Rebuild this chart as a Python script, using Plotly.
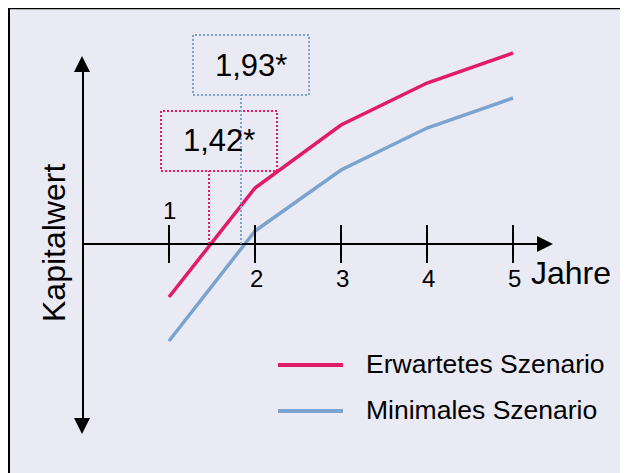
import plotly.graph_objects as go

# ---- data ----
jahre = [1, 2, 3, 4, 5]
tick_labels = ["1", "2", "3", "4", "5"]
erwartet = [-5.3, 5.6, 11.9, 16.1, 19.1]
minimal = [-9.7, 1.3, 7.4, 11.6, 14.6]
serien_namen = ["Erwartetes Szenario", "Minimales Szenario"]
amort_labels = ["1,42*", "1,93*"]

PAGE_W, PAGE_H = 628, 473
OFF = 8                      # default page body margin
W, H = PAGE_W - OFF, PAGE_H - OFF
PINK = "#E11B6A"
BLUE = "#7AA4CF"
BG = "#EAEAF4"
FONT = "Liberation Sans, Arial, sans-serif"

# page pixel -> data helpers
X0, XS = 83.0, 86.0     # pixel of year 0, pixels per year
Y0, YS = 244.0, 10.0    # pixel of value 0, pixels per unit
def dx(px):
    return (px - X0) / XS
def dy(py):
    return (Y0 - py) / YS
def paper_x(px):
    return (px - OFF) / W
def paper_y(py):
    return 1 - (py - OFF) / H

fig = go.Figure()
fig.add_trace(go.Scatter(x=jahre, y=erwartet, mode="lines", name=serien_namen[0],
                         line=dict(color=PINK, width=3.5), showlegend=False))
fig.add_trace(go.Scatter(x=jahre, y=minimal, mode="lines", name=serien_namen[1],
                         line=dict(color=BLUE, width=3.5), showlegend=False))

shapes = []
ann = []

# background frame
shapes.append(dict(type="rect", xref="paper", yref="paper", x0=paper_x(8), x1=paper_x(627), y0=-0.1,
                   y1=paper_y(7), fillcolor=BG, line=dict(width=0), layer="below"))
shapes.append(dict(type="line", xref="paper", yref="paper", x0=paper_x(8), x1=paper_x(627.5),
                   y0=paper_y(8.3), y1=paper_y(8.3), line=dict(color="black", width=2), layer="below"))
shapes.append(dict(type="line", xref="paper", yref="paper", x0=paper_x(9), x1=paper_x(9),
                   y0=-0.1, y1=paper_y(7), line=dict(color="black", width=2), layer="below"))
shapes.append(dict(type="line", xref="paper", yref="paper", x0=paper_x(627), x1=paper_x(627),
                   y0=-0.1, y1=paper_y(7), line=dict(color="#888888", width=1), layer="below"))

# axes
shapes.append(dict(type="line", x0=0, x1=0, y0=dy(72), y1=dy(418), line=dict(color="black", width=2)))
shapes.append(dict(type="line", x0=0, x1=dx(540), y0=0, y1=0, line=dict(color="black", width=2)))
# arrow heads
shapes.append(dict(type="path",
                   path=f"M {dx(74)} {dy(72)} L {dx(90)} {dy(72)} L {dx(82)} {dy(56)} Z",
                   fillcolor="black", line=dict(width=0)))
shapes.append(dict(type="path",
                   path=f"M {dx(74)} {dy(418)} L {dx(90)} {dy(418)} L {dx(82)} {dy(434)} Z",
                   fillcolor="black", line=dict(width=0)))
shapes.append(dict(type="path",
                   path=f"M {dx(537)} {dy(236)} L {dx(537)} {dy(252)} L {dx(553)} {dy(244)} Z",
                   fillcolor="black", line=dict(width=0)))

# ticks and tick labels
for j, lab in zip(jahre, tick_labels):
    shapes.append(dict(type="line", x0=j, x1=j, y0=dy(225), y1=dy(263),
                       line=dict(color="black", width=2)))
    if j == 1:
        ann.append(dict(x=j, y=dy(210), text=lab, showarrow=False, xanchor="center", yanchor="middle",
                        font=dict(size=24, color="black", family=FONT)))
    else:
        ann.append(dict(x=j + dx(84) - dx(83), y=dy(278), text=lab, showarrow=False,
                        xanchor="center", yanchor="middle",
                        font=dict(size=24, color="black", family=FONT)))

ann.append(dict(x=dx(529), y=dy(273), text="Jahre", showarrow=False, xanchor="left", yanchor="middle",
                font=dict(size=32, color="black", family=FONT)))
ann.append(dict(x=dx(54), y=dy(243), text="Kapitalwert", showarrow=False, textangle=-90,
                xanchor="center", yanchor="middle",
                font=dict(size=32, color="black", family=FONT)))

# amortisation markers: dotted vertical line + dotted box with label
marks = [
    dict(col=PINK, xl=209, box=(161, 111, 277, 171), txt=(219, 140), lab=amort_labels[0]),
    dict(col=BLUE, xl=241, box=(193, 35, 309, 95), txt=(251, 65), lab=amort_labels[1]),
]
for m in marks:
    bx0, by0, bx1, by1 = m["box"]
    shapes.append(dict(type="line", x0=dx(m["xl"]), x1=dx(m["xl"]), y0=0, y1=dy(by1),
                       line=dict(color=m["col"], width=2, dash="2px,2px")))
    shapes.append(dict(type="rect", x0=dx(bx0), x1=dx(bx1), y0=dy(by1), y1=dy(by0),
                       line=dict(color=m["col"], width=2, dash="2px,2px")))
    ann.append(dict(x=dx(m["txt"][0]), y=dy(m["txt"][1]), text=m["lab"], showarrow=False,
                    xanchor="center", yanchor="middle",
                    font=dict(size=31, color="black", family=FONT)))

# manual legend
for name, col, py in [(serien_namen[0], PINK, 365), (serien_namen[1], BLUE, 411)]:
    shapes.append(dict(type="line", x0=dx(278), x1=dx(343), y0=dy(py), y1=dy(py),
                       line=dict(color=col, width=4)))
    ann.append(dict(x=dx(364), y=dy(py - 1), text=name, showarrow=False, xanchor="left",
                    yanchor="middle", font=dict(size=26.5, color="black", family=FONT)))

fig.update_layout(
    width=W, height=H,
    margin=dict(l=0, r=0, t=0, b=0),
    paper_bgcolor="white", plot_bgcolor="rgba(0,0,0,0)",
    xaxis=dict(range=[dx(OFF), dx(PAGE_W)], visible=False, fixedrange=True),
    yaxis=dict(range=[dy(PAGE_H), dy(OFF)], visible=False, fixedrange=True),
    shapes=shapes, annotations=ann, showlegend=False,
)
fig.write_html("out.html")
